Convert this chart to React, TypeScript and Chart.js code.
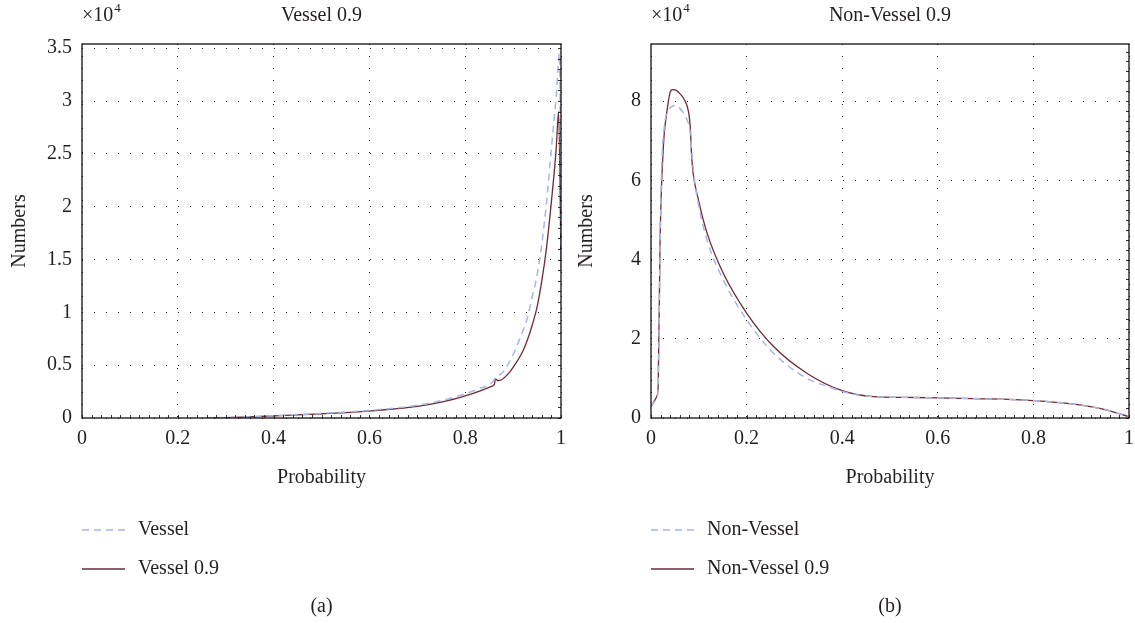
import React, { useEffect, useRef } from "react";
import { Chart, registerables } from "chart.js";

Chart.register(...registerables);

// ---------- data (values in units of 10^4) ----------
const xTicks = [0, 0.2, 0.4, 0.6, 0.8, 1];
const leftYTicks = [0, 0.5, 1, 1.5, 2, 2.5, 3, 3.5];
const rightYTicks = [0, 2, 4, 6, 8];
const leftYMax = 3.54;
const rightYMax = 9.44;

const vesselP = [0.26, 0.3, 0.35, 0.4, 0.45, 0.5, 0.55, 0.6, 0.65, 0.7, 0.75, 0.8, 0.83, 0.855, 0.865, 0.872, 0.88, 0.9, 0.92, 0.93, 0.94, 0.95, 0.96, 0.97, 0.98, 0.99, 0.997, 1.0];
const vesselV = [0, 0.004, 0.012, 0.022, 0.033, 0.044, 0.056, 0.072, 0.093, 0.12, 0.165, 0.23, 0.28, 0.33, 0.39, 0.41, 0.44, 0.6, 0.82, 0.95, 1.15, 1.35, 1.65, 2.05, 2.55, 3.05, 3.45, 1.4];

const vessel09P = [0.26, 0.3, 0.35, 0.4, 0.45, 0.5, 0.55, 0.6, 0.65, 0.7, 0.75, 0.8, 0.83, 0.855, 0.861, 0.863, 0.868, 0.875, 0.89, 0.9, 0.92, 0.93, 0.94, 0.95, 0.96, 0.97, 0.98, 0.99, 0.995, 1.0];
const vessel09V = [0, 0.003, 0.01, 0.02, 0.03, 0.04, 0.05, 0.065, 0.085, 0.11, 0.15, 0.21, 0.255, 0.3, 0.32, 0.37, 0.355, 0.36, 0.42, 0.48, 0.63, 0.74, 0.88, 1.05, 1.3, 1.62, 2.05, 2.55, 2.9, 1.5];

const nonVesselP = [0, 0.012, 0.015, 0.019, 0.022, 0.029, 0.036, 0.043, 0.05, 0.057, 0.064, 0.075, 0.082, 0.086, 0.09, 0.1, 0.117, 0.151, 0.2, 0.256, 0.326, 0.381, 0.4, 0.465, 0.535, 0.6, 0.674, 0.8, 0.884, 0.954, 1.0];
const nonVesselV = [0.29, 0.52, 0.78, 4.3, 6.19, 7.46, 7.75, 7.86, 7.88, 7.85, 7.76, 7.54, 7.2, 6.6, 6.1, 5.35, 4.5, 3.49, 2.48, 1.64, 1.0, 0.75, 0.67, 0.54, 0.52, 0.51, 0.49, 0.44, 0.35, 0.2, 0.03];

const nonVessel09P = [0, 0.012, 0.015, 0.019, 0.026, 0.033, 0.04, 0.045, 0.053, 0.061, 0.071, 0.078, 0.082, 0.085, 0.088, 0.099, 0.117, 0.151, 0.2, 0.256, 0.326, 0.4, 0.465, 0.535, 0.6, 0.674, 0.8, 0.884, 0.954, 1.0];
const nonVessel09V = [0.29, 0.54, 0.8, 4.5, 6.87, 7.71, 8.22, 8.29, 8.27, 8.18, 8.01, 7.76, 7.37, 6.62, 6.19, 5.52, 4.68, 3.66, 2.65, 1.81, 1.13, 0.69, 0.54, 0.52, 0.51, 0.49, 0.44, 0.35, 0.2, 0.03];

// ---------- styles ----------
const FONT = '"Liberation Serif", "Times New Roman", serif';
const TEXT = "#231f20";
const DASH_COLOR = "#a9b7de";
const SOLID_COLOR = "#6e2a34";

const toPoints = (xs: number[], ys: number[]) => xs.map((x, i) => ({ x, y: ys[i] }));

const decorPlugin = {
  id: "decor",
  afterDraw(chart: any, _args: any, opts: any) {
    const { ctx, chartArea: a } = chart;
    const xs = chart.scales.x;
    const ys = chart.scales.y;
    ctx.save();
    // minor ticks
    ctx.strokeStyle = "#333";
    ctx.lineWidth = 1;
    ctx.setLineDash([]);
    ctx.beginPath();
    for (let i = 0; i <= 50; i++) {
      const px = Math.round(xs.getPixelForValue(i * 0.02)) + 0.5;
      ctx.moveTo(px, a.bottom);
      ctx.lineTo(px, a.bottom - 3);
    }
    for (let v = 0; v <= ys.max + 1e-9; v += opts.yMinor) {
      const py = Math.round(ys.getPixelForValue(v)) + 0.5;
      ctx.moveTo(a.right, py);
      ctx.lineTo(a.right - 3, py);
    }
    ctx.stroke();
    // box
    ctx.strokeStyle = "#111";
    ctx.lineWidth = 1.3;
    ctx.strokeRect(a.left, a.top, a.right - a.left, a.bottom - a.top);

    const cx = (a.left + a.right) / 2;
    ctx.fillStyle = TEXT;
    // title
    ctx.font = `20px ${FONT}`;
    ctx.textAlign = "center";
    ctx.textBaseline = "alphabetic";
    ctx.fillText(opts.title, cx, 21);
    // x10^4
    ctx.textAlign = "left";
    ctx.fillText("×10", a.left, 21);
    const w = ctx.measureText("×10").width;
    ctx.font = `13px ${FONT}`;
    ctx.fillText("4", a.left + w + 1, 12);

    // legend
    ctx.font = `20px ${FONT}`;
    ctx.textBaseline = "middle";
    const rows = [
      { y: 530, label: opts.labels[0], dash: [7, 5], color: DASH_COLOR, width: 1.5 },
      { y: 569, label: opts.labels[1], dash: [], color: SOLID_COLOR, width: 1.3 },
    ];
    rows.forEach((r) => {
      ctx.beginPath();
      ctx.setLineDash(r.dash);
      ctx.strokeStyle = r.color;
      ctx.lineWidth = r.width;
      ctx.moveTo(a.left, r.y);
      ctx.lineTo(a.left + 43, r.y);
      ctx.stroke();
      ctx.setLineDash([]);
      ctx.fillStyle = TEXT;
      ctx.fillText(r.label, a.left + 56, r.y);
    });
    // caption
    ctx.textAlign = "center";
    ctx.fillText(opts.caption, cx, 607);
    ctx.restore();
  },
};

function makeChart(
  canvas: HTMLCanvasElement,
  cfg: {
    dashed: { label: string; p: number[]; v: number[] };
    solid: { label: string; p: number[]; v: number[] };
    yTicks: number[];
    yMax: number;
    yMinor: number;
    yAxisWidth: number;
    title: string;
    caption: string;
  }
) {
  return new Chart(canvas, {
    type: "line",
    data: {
      datasets: [
        {
          label: cfg.dashed.label,
          data: toPoints(cfg.dashed.p, cfg.dashed.v),
          borderColor: DASH_COLOR,
          borderWidth: 1.5,
          borderDash: [7, 5],
          pointRadius: 0,
          fill: false,
          cubicInterpolationMode: "monotone",
        },
        {
          label: cfg.solid.label,
          data: toPoints(cfg.solid.p, cfg.solid.v),
          borderColor: SOLID_COLOR,
          borderWidth: 1.3,
          pointRadius: 0,
          fill: false,
          cubicInterpolationMode: "monotone",
        },
      ],
    },
    options: {
      animation: false,
      responsive: false,
      devicePixelRatio: 1,
      events: [],
      layout: { padding: { top: 44, right: 6, bottom: 131, left: 0 } },
      plugins: {
        legend: { display: false },
        tooltip: { enabled: false },
        decor: {
          title: cfg.title,
          caption: cfg.caption,
          labels: [cfg.dashed.label, cfg.solid.label],
          yMinor: cfg.yMinor,
        },
      } as any,
      scales: {
        x: {
          type: "linear",
          min: 0,
          max: 1,
          afterBuildTicks: (s: any) => {
            s.ticks = xTicks.map((v) => ({ value: v }));
          },
          afterFit: (s: any) => {
            s.height = 74;
            s.paddingLeft = 0;
            s.paddingRight = 0;
          },
          grid: { color: "#222", lineWidth: 1, drawTicks: false },
          border: { display: false, dash: [1, 11] },
          ticks: {
            padding: 9,
            color: TEXT,
            font: { family: FONT, size: 20 },
            maxRotation: 0,
            callback: (v: any) => String(Number(v)),
          },
          title: {
            display: true,
            text: "Probability",
            color: TEXT,
            font: { family: FONT, size: 20 },
            padding: { top: 0, bottom: 2 },
          },
        },
        y: {
          type: "linear",
          min: 0,
          max: cfg.yMax,
          afterBuildTicks: (s: any) => {
            s.ticks = cfg.yTicks.map((v) => ({ value: v }));
          },
          afterFit: (s: any) => {
            s.width = cfg.yAxisWidth;
            s.paddingTop = 0;
            s.paddingBottom = 0;
          },
          grid: { color: "#222", lineWidth: 1, drawTicks: false },
          border: { display: false, dash: [1, 11] },
          ticks: {
            padding: 10,
            color: TEXT,
            font: { family: FONT, size: 20 },
            callback: (v: any) => String(Number(v)),
          },
          title: {
            display: true,
            text: "Numbers",
            color: TEXT,
            font: { family: FONT, size: 20 },
            padding: { top: 8, bottom: 0 },
          },
        },
      },
    },
    plugins: [decorPlugin],
  } as any);
}

export default function App() {
  const leftRef = useRef<HTMLCanvasElement>(null);
  const rightRef = useRef<HTMLCanvasElement>(null);

  useEffect(() => {
    const left = makeChart(leftRef.current!, {
      dashed: { label: "Vessel", p: vesselP, v: vesselV },
      solid: { label: "Vessel 0.9", p: vessel09P, v: vessel09V },
      yTicks: leftYTicks,
      yMax: leftYMax,
      yMinor: 0.1,
      yAxisWidth: 82,
      title: "Vessel 0.9",
      caption: "(a)",
    });
    const right = makeChart(rightRef.current!, {
      dashed: { label: "Non-Vessel", p: nonVesselP, v: nonVesselV },
      solid: { label: "Non-Vessel 0.9", p: nonVessel09P, v: nonVessel09V },
      yTicks: rightYTicks,
      yMax: rightYMax,
      yMinor: 0.25,
      yAxisWidth: 84,
      title: "Non-Vessel 0.9",
      caption: "(b)",
    });
    return () => {
      left.destroy();
      right.destroy();
    };
  }, []);

  return (
    <div style={{ position: "absolute", left: 0, top: 0, width: 1135, height: 623, background: "#fff" }}>
      <canvas ref={leftRef} width={567} height={623} style={{ position: "absolute", left: 0, top: 0 }} />
      <canvas ref={rightRef} width={568} height={623} style={{ position: "absolute", left: 567, top: 0 }} />
    </div>
  );
}
